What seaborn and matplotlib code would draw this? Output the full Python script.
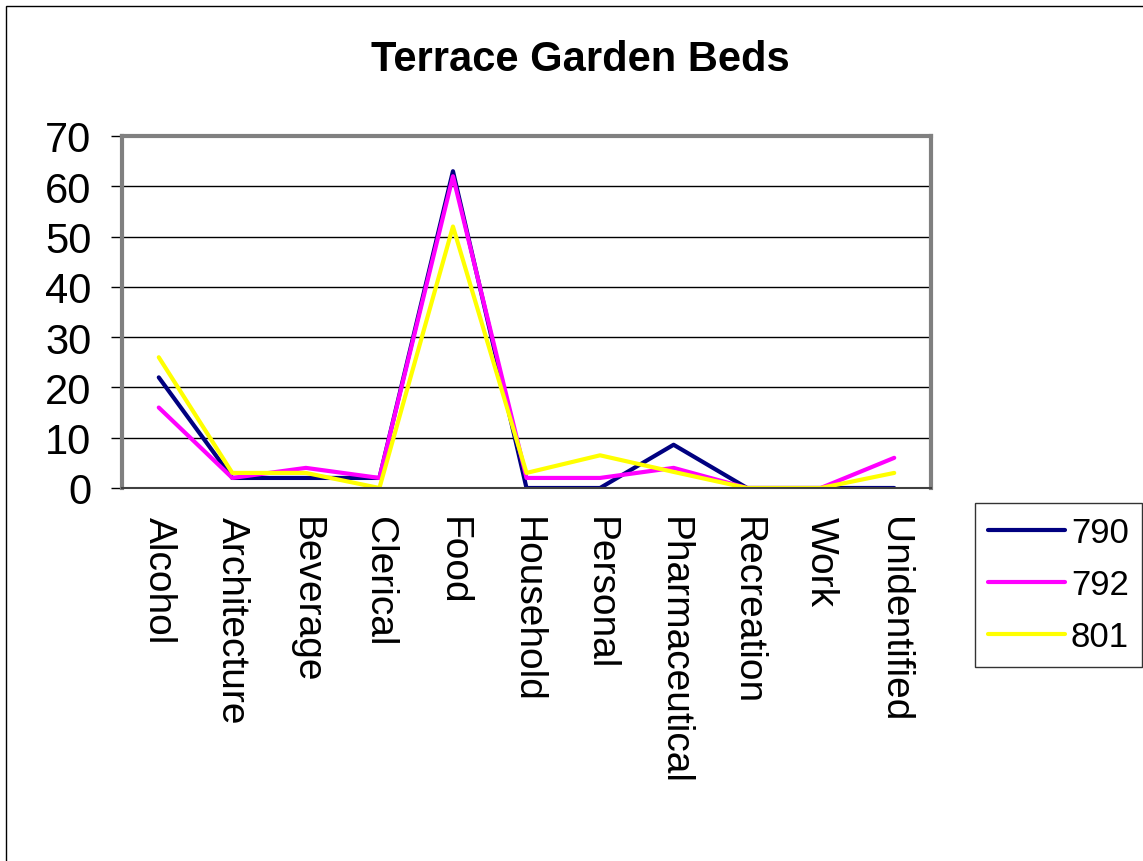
import matplotlib
import numpy as np
import pandas as pd
import seaborn as sns

matplotlib.use("Agg")
import matplotlib.pyplot as plt
from matplotlib.patches import Rectangle

categories = [
    "Alcohol", "Architecture", "Beverage", "Clerical", "Food", "Household",
    "Personal", "Pharmaceutical", "Recreation", "Work", "Unidentified",
]
s790 = [22, 2, 2, 2, 63, 0, 0, 8.6, 0, 0, 0]
s792 = [16, 2, 4, 2, 62, 2, 2, 4, 0, 0, 6]
s801 = [26, 3, 3, 0, 52, 3, 6.5, 3.2, 0, 0, 3]
series_names = ["790", "792", "801"]
colors = ["#000080", "#FF00FF", "#FFFF00"]
y_ticks = [0, 10, 20, 30, 40, 50, 60, 70]

df = pd.DataFrame({"category": categories, "790": s790, "792": s792, "801": s801})
long = df.melt(id_vars="category", var_name="series", value_name="value")

sns.set_theme(style="white")
plt.rcParams["font.family"] = ["Liberation Sans", "DejaVu Sans"]
plt.rcParams["text.color"] = "black"
plt.rcParams["xtick.color"] = "black"
plt.rcParams["ytick.color"] = "black"

fig = plt.figure(figsize=(11.43, 8.62), dpi=100)
ax = fig.add_axes([122 / 1143, 1 - 489 / 862, (931 - 122) / 1143, (489 - 137) / 862])

sns.lineplot(
    data=long, x="category", y="value", hue="series",
    hue_order=series_names, palette=colors, linewidth=3,
    sort=False, ax=ax,
)

ax.set_xlim(-0.5, len(categories) - 0.5)
ax.set_ylim(0, 70)
ax.set_yticks(y_ticks)
ax.set_yticklabels([str(v) for v in y_ticks], fontsize=30)
ax.set_xticks(range(len(categories)))
ax.set_xticklabels(categories, rotation=-90, fontsize=28, va="top", ha="center")
ax.set_xticks(np.arange(-0.5, len(categories), 1), minor=True)
ax.tick_params(axis="x", which="major", length=0, pad=20)
ax.tick_params(axis="x", which="minor", length=8, width=1, color="black", direction="out")
ax.tick_params(axis="y", length=8, width=1, color="black", direction="out", pad=14, left=True)
ax.set_xlabel("")
ax.set_ylabel("")

for v in y_ticks[1:-1]:
    ax.axhline(v, color="black", linewidth=1, zorder=0)

for side in ["top", "right", "left"]:
    ax.spines[side].set_color("#808080")
    ax.spines[side].set_linewidth(3)
ax.spines["bottom"].set_color("#404040")
ax.spines["bottom"].set_linewidth(1.5)

fig.text(580 / 1143, 1 - 60 / 862, "Terrace Garden Beds", ha="center", va="center",
         fontsize=30, fontweight="bold", color="black")

handles, labels = ax.get_legend_handles_labels()
ax.legend_.remove()
leg = fig.legend(
    handles, labels, loc="upper left",
    bbox_to_anchor=(975 / 1143, 1 - 504 / 862), borderaxespad=0,
    fontsize=25, frameon=True, fancybox=False, edgecolor="black",
    handlelength=2.2, handletextpad=0.18, labelspacing=0.55, borderpad=0.38,
)
leg.get_frame().set_linewidth(1)
for t in leg.get_texts():
    t.set_color("black")

fig.patches.append(Rectangle((6 / 1143, -0.01), 1.1, 1 - 7 / 862 + 0.01,
                             transform=fig.transFigure, fill=False,
                             edgecolor="black", linewidth=1))

fig.savefig("out.png", dpi=100)
